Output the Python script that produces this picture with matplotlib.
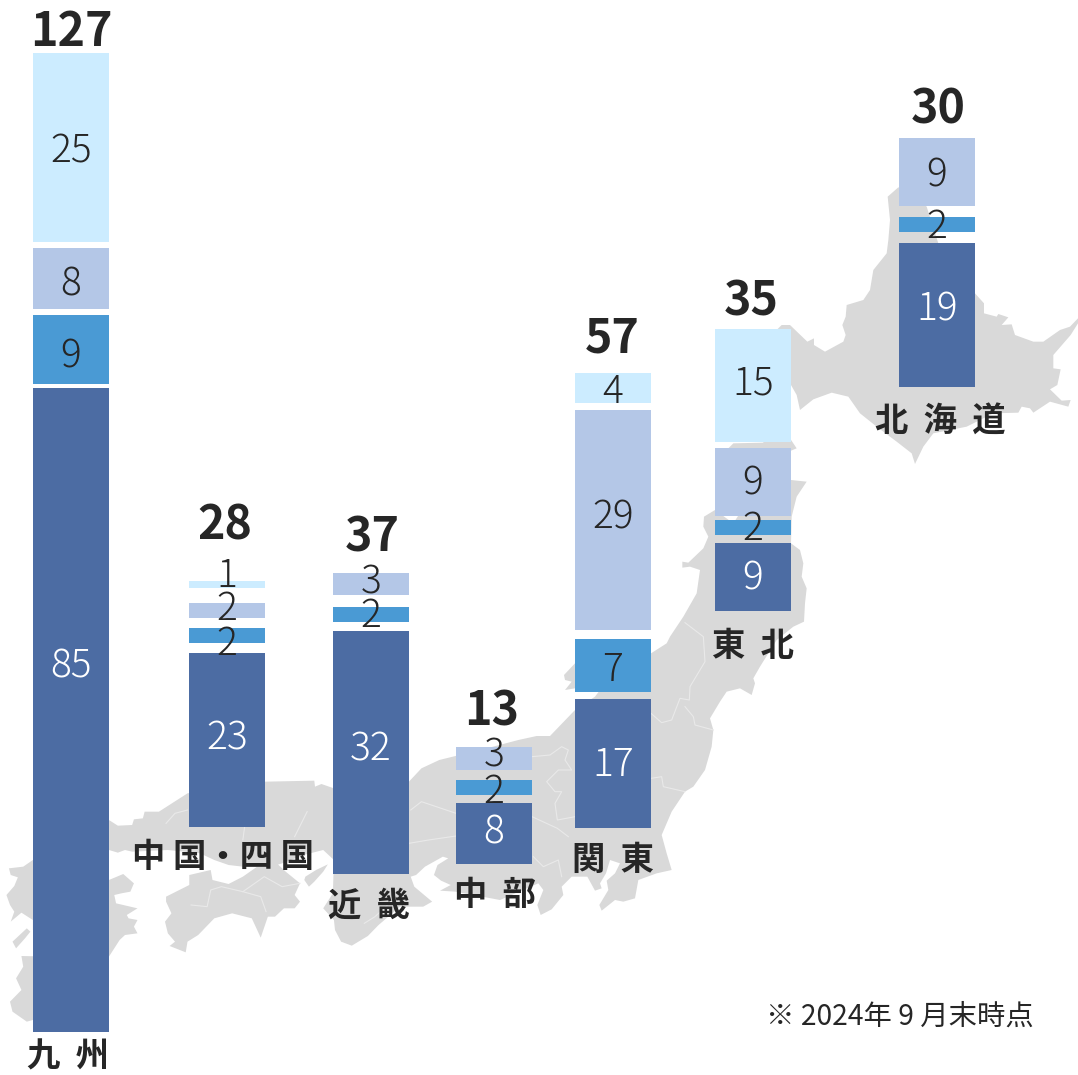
import matplotlib
matplotlib.use("Agg")
import matplotlib.pyplot as plt
from matplotlib.patches import Polygon

plt.rcParams['font.family'] = ['Noto Sans CJK JP', 'DejaVu Sans']

# ---------- data ----------
regions = ['九  州', '中 国・四 国', '近  畿', '中  部', '関  東', '東  北', '北  海  道']
totals = [127, 28, 37, 13, 57, 35, 30]
series_a = [85, 23, 32, 8, 17, 9, 19]
series_b = [9, 2, 2, 2, 7, 2, 2]
series_c = [8, 2, 3, 3, 29, 9, 9]
series_d = [25, 1, 0, 0, 4, 15, 0]
note = '※ 2024年 9 月末時点'

# ---------- layout (pixels of the 1078x1075 canvas) ----------
W, H = 1078, 1075
PX_PER_UNIT = 7.58
colors = ['#4C6CA3', '#4A9AD4', '#B4C7E7', '#CCECFF']
text_colors = ['white', '#262626', '#262626', '#262626']
bar_left = [33, 189, 333, 456, 575, 715, 899]
bar_width = 76
base_px = [1032, 827, 874, 864, 828, 611, 387]
gaps_px = [[4, 6.5, 6], [9.5, 10, 14.5], [9, 12, 0], [8.5, 9.5, 0], [7, 9, 7], [7.5, 4, 5.5], [11, 10.5, 0]]
label_shift = [[-48, 3, 2, 0], [-6, 4, -6, -13], [-7, -3, -6, 0], [-5, 0, -8, 0],
               [-3, 0, -7, 0], [-3, -3, -3, -6], [-10, -2, -1, 0]]
total_y = [27, 521, 532, 706, 333, 296, 104]
total_x = [71, 225, 372, 492, 612, 751, 938]
region_xy = [(68, 1054), (223, 854), (369, 903), (495, 892), (613, 857), (753, 643), (940, 418)]

fig = plt.figure(figsize=(W / 100, H / 100), dpi=100, facecolor='white')
mp = fig.add_axes([0, 0, 1, 1])
mp.set_xlim(0, W)
mp.set_ylim(H, 0)
mp.axis('off')


def z1(pts):
    return [(x / 2.8, 760 + y / 3) for x, y in pts]


def z2(pts):
    return [(500 + x / 3, 440 + y / 3) for x, y in pts]


def z3(pts):
    return [(700 + x / 3, 80 + y / 3) for x, y in pts]


GRAY = '#D9D9D9'
hokkaido = z3([(563, 350), (595, 322), (640, 340), (680, 380), (715, 490), (825, 640), (852, 670), (852, 700),
               (890, 710), (895, 702), (925, 712), (905, 735), (935, 733), (945, 765), (1000, 785), (1030, 785),
               (1080, 750), (1110, 740), (1134, 715), (1134, 730), (1112, 765), (1060, 825), (1060, 865),
               (1082, 868), (1072, 915), (1050, 928), (1085, 962), (1112, 960), (1105, 980), (1050, 965),
               (1000, 998), (990, 985), (965, 980), (955, 998), (880, 1000), (800, 1040), (700, 1060), (670, 1100),
               (645, 1152), (635, 1120), (590, 1085), (530, 1040), (480, 1000), (445, 950), (395, 938), (340, 958),
               (300, 990), (290, 945), (273, 915), (200, 900), (200, 1050), (270, 1075), (290, 1105), (273, 1112),
               (85, 1105), (100, 1090), (190, 1088), (200, 900), (200, 780), (245, 735), (270, 735), (322, 785),
               (342, 775), (342, 795), (375, 815), (430, 785), (437, 765), (427, 735), (437, 710), (440, 675),
               (490, 660), (510, 630), (520, 570), (560, 520), (565, 480), (570, 420)])
honshu = (
    z2([(700, 250), (780, 125), (873, 120), (920, 125), (890, 170), (875, 230), (873, 310), (900, 330), (910, 370),
        (905, 410), (920, 445), (915, 490), (912, 545), (880, 560), (830, 600), (780, 680), (760, 715), (765, 730),
        (755, 765), (720, 745), (680, 755), (660, 785), (630, 835), (640, 870), (635, 920), (615, 990), (580, 1040),
        (555, 1055), (515, 1115), (485, 1185), (500, 1240), (515, 1290), (470, 1300), (415, 1320), (405, 1375),
        (370, 1385), (345, 1380), (305, 1412), (298, 1395), (325, 1350), (320, 1322), (345, 1300), (360, 1270),
        (330, 1260), (318, 1300), (300, 1330), (305, 1345), (285, 1352), (262, 1310), (215, 1310), (185, 1340),
        (190, 1365), (155, 1408), (122, 1425), (112, 1395), (130, 1350), (115, 1330)])
    + z1([(1400, 420), (1275, 395), (1232, 392), (1262, 375), (1235, 362), (1215, 345), (1225, 315), (1255, 295),
          (1240, 290), (1190, 320), (1165, 345), (1150, 350), (1160, 380), (1210, 425), (1185, 440), (1120, 440),
          (1060, 495), (1030, 528), (985, 557), (955, 545), (938, 510), (935, 480), (905, 445), (920, 420),
          (932, 400), (935, 300), (905, 270), (850, 285), (790, 310), (760, 320), (680, 320), (640, 315), (600, 300),
          (560, 280), (470, 270), (370, 275), (350, 270), (330, 278), (305, 270), (250, 270), (250, 160), (305, 180),
          (330, 197), (370, 195), (375, 178), (400, 175), (405, 155), (445, 155), (525, 100), (742, 65), (880, 62),
          (882, 80), (900, 72), (935, 85), (1040, 90), (1145, 65), (1180, 25), (1230, 0)])
    + z2([(-40, 925), (55, 900), (110, 888), (150, 888), (225, 810), (285, 770), (300, 750), (225, 745), (195, 750),
          (215, 725), (195, 720), (192, 705), (225, 670), (300, 660), (453, 640), (500, 610), (510, 590), (550, 530),
          (590, 460), (600, 390), (570, 380), (547, 383), (547, 365), (565, 368), (610, 325), (625, 290), (610, 260),
          (612, 230), (645, 210)])
)
shikoku = z1([(465, 410), (530, 375), (530, 345), (590, 330), (595, 360), (640, 372), (680, 350), (720, 320),
              (775, 310), (800, 335), (840, 370), (825, 405), (840, 425), (825, 445), (795, 445), (770, 470),
              (750, 470), (730, 533), (705, 475), (650, 460), (600, 475), (555, 525), (525, 545), (520, 577),
              (475, 558), (490, 545), (470, 520), (462, 485), (480, 460), (465, 425)])
awaji = z1([(855, 350), (885, 330), (918, 313), (905, 335), (880, 365), (865, 380), (852, 360)])
kyushu = z1([(92, 300), (65, 320), (25, 325), (30, 345), (50, 352), (40, 378), (18, 405), (28, 435), (40, 455),
             (30, 485), (60, 458), (92, 480), (92, 510), (150, 510), (150, 590), (60, 588), (65, 620), (45, 655),
             (60, 690), (28, 725), (35, 755), (75, 785), (92, 780), (200, 750), (305, 590), (335, 540), (350, 525),
             (385, 520), (375, 500), (385, 480), (360, 475), (355, 465), (385, 445), (325, 430), (320, 405),
             (340, 400), (365, 395), (375, 370), (345, 342), (305, 360), (200, 320)])
amakusa = z1([(35, 545), (75, 505), (85, 515), (70, 535), (45, 565)])
for shape in [hokkaido, honshu, shikoku, awaji, kyushu, amakusa]:
    mp.add_patch(Polygon(shape, closed=True, facecolor=GRAY, edgecolor='none', zorder=1))

# faint prefecture borders
borders = [
    z2([(555, 548), (610, 590), (615, 665), (570, 740), (568, 780), (540, 775), (515, 840), (485, 848), (453, 820)]),
    z2([(555, 800), (580, 830), (585, 855), (640, 870)]),
    z2([(453, 1015), (485, 1010), (490, 1040), (555, 1055)]),
    z2([(96, 950), (150, 945), (185, 920), (205, 930), (195, 960), (215, 990), (175, 990), (140, 1025), (165, 1055),
        (185, 1055), (165, 1090), (172, 1140), (225, 1130)]),
    z2([(96, 1130), (172, 1165), (205, 1190)]),
    z2([(100, 1250), (130, 1280), (175, 1260), (185, 1310)]),
    z1([(825, 230), (860, 155)]),
    z1([(465, 190), (490, 160), (525, 150)]),
    z1([(685, 200), (680, 240)]),
    z1([(535, 435), (580, 440), (590, 390), (620, 380), (680, 395), (730, 410), (745, 455)]),
    z1([(680, 395), (740, 350), (790, 380), (840, 370)]),
    z1([(1150, 150), (1180, 125), (1277, 160)]),
    z1([(1145, 250), (1200, 240), (1277, 228)]),
    z1([(1020, 490), (1050, 470), (1100, 420)]),
]
for line in borders:
    mp.plot([p[0] for p in line], [p[1] for p in line], color='#E9E9E9', lw=0.8, zorder=1.5)

# ---------- stacked bars, value axis ----------
ax = fig.add_axes([0, 0, 1, 1], facecolor='none')
ax.set_xlim(0, W)
ax.set_ylim(0, H / PX_PER_UNIT)
ax.axis('off')

for i in range(len(regions)):
    vals = [series_a[i], series_b[i], series_c[i], series_d[i]]
    bottom = (H - base_px[i]) / PX_PER_UNIT
    for k, v in enumerate(vals):
        if v == 0:
            continue
        ax.bar(bar_left[i], v, width=bar_width, bottom=bottom, align='edge', color=colors[k], linewidth=0, zorder=2)
        ax.text(bar_left[i] + bar_width / 2, bottom + v / 2 - label_shift[i][k] / PX_PER_UNIT, str(v),
                ha='center', va='center_baseline', fontsize=28, fontweight='light', color=text_colors[k], zorder=4)
        bottom += v
        if k < 3:
            bottom += gaps_px[i][k] / PX_PER_UNIT

for i in range(len(regions)):
    ax.text(total_x[i], (H - total_y[i]) / PX_PER_UNIT, str(totals[i]), ha='center', va='center_baseline',
            fontsize=33.5, fontweight='bold', color='#262626', zorder=4)
    rx, ry = region_xy[i]
    ax.text(rx, (H - ry) / PX_PER_UNIT, regions[i], ha='center', va='center_baseline',
            fontsize=24, fontweight='bold', color='#262626', zorder=4)

ax.text(899.5, (H - 1013) / PX_PER_UNIT, note, ha='center', va='center_baseline', fontsize=20.4,
        fontweight='regular', color='#262626', zorder=4)

fig.savefig('out.png', dpi=100, facecolor='white')
